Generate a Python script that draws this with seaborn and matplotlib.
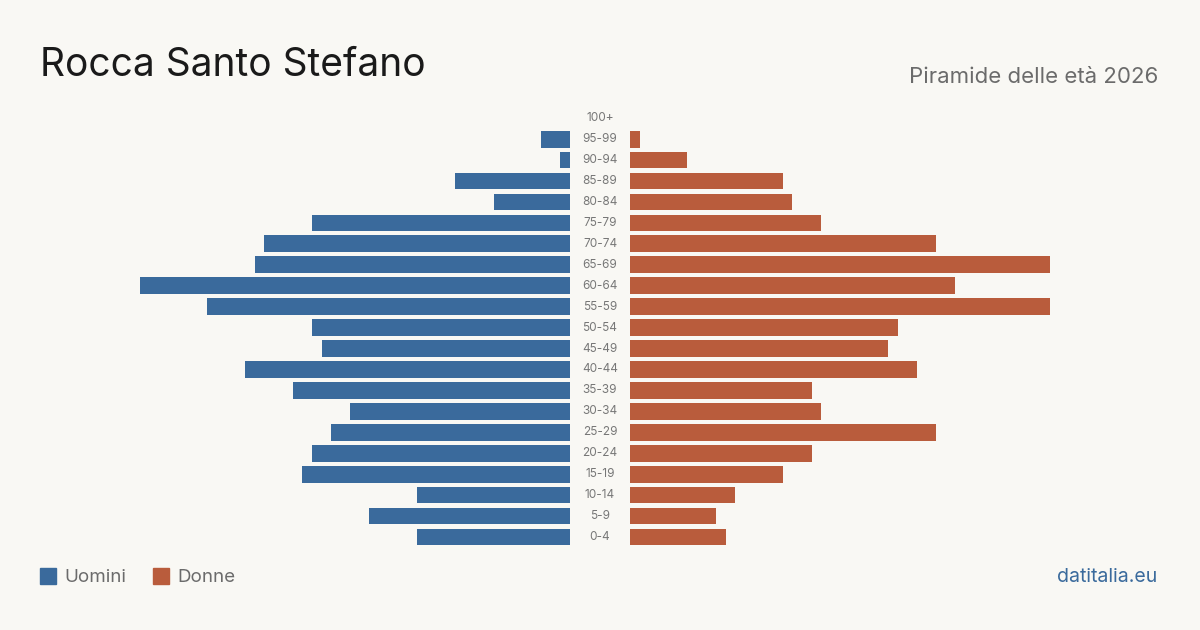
import matplotlib
matplotlib.use("Agg")
import matplotlib.pyplot as plt
import seaborn as sns
import pandas as pd
from matplotlib.patches import Rectangle

# dati (da 0-4 a 100+)
eta = ["0-4", "5-9", "10-14", "15-19", "20-24", "25-29", "30-34", "35-39",
       "40-44", "45-49", "50-54", "55-59", "60-64", "65-69", "70-74",
       "75-79", "80-84", "85-89", "90-94", "95-99", "100+"]
uomini = [16, 21, 16, 28, 27, 25, 23, 29, 34, 26, 27, 38, 45, 33, 32, 27, 8, 12, 1, 3, 0]
donne = [10, 9, 11, 16, 19, 32, 20, 19, 30, 27, 28, 44, 34, 44, 32, 20, 17, 16, 6, 1, 0]

BG = "#f9f8f4"
BLU = "#3a6a9c"
ROSSO = "#b95c3c"
GRIGIO = "#6b6b6b"

sns.set_theme(style="white")
plt.rcParams["font.family"] = ["Inter", "DejaVu Sans"]

df = pd.DataFrame({"eta": eta, "uomini": uomini, "donne": donne})
ordine = eta[::-1]

fig = plt.figure(figsize=(12, 6.3), dpi=100, facecolor=BG)
ax_l = fig.add_axes([140 / 1200, 0.131, 430 / 1200, 0.698])
ax_r = fig.add_axes([630 / 1200, 0.131, 430 / 1200, 0.698])

sns.barplot(data=df, y="eta", x="uomini", order=ordine, color=BLU,
            width=0.8, saturation=1, linewidth=0, ax=ax_l)
sns.barplot(data=df, y="eta", x="donne", order=ordine, color=ROSSO,
            width=0.8, saturation=1, linewidth=0, ax=ax_r)

ax_l.set_xlim(45, 0)
ax_r.set_xlim(0, 45)
for ax in (ax_l, ax_r):
    ax.set_facecolor(BG)
    ax.set_ylim(len(eta) - 0.5, -0.5)
    ax.set_xticks([])
    ax.set_yticks([])
    ax.set_xlabel("")
    ax.set_ylabel("")
    sns.despine(ax=ax, left=True, bottom=True)

# etichette età al centro
for i, lab in enumerate(ordine):
    ax_r.text(-3.14, i, lab, ha="center", va="center", fontsize=8.5,
              color="#777777", clip_on=False)

fig.text(40 / 1200, 1 - 66 / 630, "Rocca Santo Stefano", fontsize=28,
         color="#1a1a1a", ha="left", va="center")
fig.text(1158 / 1200, 1 - 77 / 630, "Piramide delle età 2026", fontsize=16,
         color=GRIGIO, ha="right", va="center")

# legenda
fig.patches.append(Rectangle((40 / 1200, 1 - 584 / 630), 16 / 1200, 16 / 630,
                             transform=fig.transFigure, color=BLU))
fig.text(64 / 1200, 1 - 577 / 630, "Uomini", fontsize=13.5, color=GRIGIO,
         ha="left", va="center")
fig.patches.append(Rectangle((153 / 1200, 1 - 584 / 630), 16 / 1200, 16 / 630,
                             transform=fig.transFigure, color=ROSSO))
fig.text(177 / 1200, 1 - 577 / 630, "Donne", fontsize=13.5, color=GRIGIO,
         ha="left", va="center")
fig.text(1157 / 1200, 1 - 577 / 630, "datitalia.eu", fontsize=14, color=BLU,
         ha="right", va="center")

fig.savefig("out.png", dpi=100, facecolor=BG)
